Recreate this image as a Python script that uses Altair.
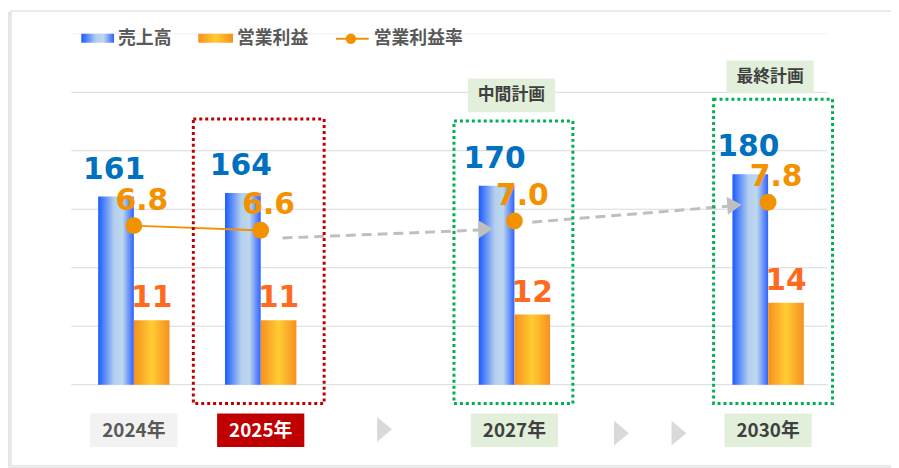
import altair as alt
import pandas as pd

# ---------------- data ----------------
categories = ["2024年", "2025年", "2027年", "2030年"]
slots = ["2024年", "2025年", " ", "2027年", "  ", "2030年"]
sales = [161, 164, 170, 180]            # 売上高
op_profit = [11, 11, 12, 14]            # 営業利益
op_margin = [6.8, 6.6, 7.0, 7.8]        # 営業利益率
phase = ["実績", "実績", "計画", "計画"]
grid_vals = [0, 50, 100, 150, 200, 250, 300]
legend_names = ["売上高", "営業利益", "営業利益率"]
plan_tags = ["中間計画", "最終計画"]

W, H = 768, 354
JP = "Noto Sans CJK JP"
NUM = "DejaVu Sans"

df = pd.DataFrame({"cat": categories, "sales": sales, "op": op_profit,
                   "margin": op_margin, "phase": phase})
one = pd.DataFrame({"k": [0]})

X = alt.X("cat:N", scale=alt.Scale(domain=slots, paddingInner=0, paddingOuter=0), axis=None)
Ys = alt.Scale(domain=[0, 300])
Yo = alt.Scale(domain=[0, 60])
Ym = alt.Scale(domain=[0, 15])

blue_grad = alt.LinearGradient(
    gradient="linear", x1=0, x2=1, y1=0, y2=0,
    stops=[alt.GradientStop(color="#1A5AFF", offset=0),
           alt.GradientStop(color="#B4CFEE", offset=0.45),
           alt.GradientStop(color="#BDD7EE", offset=0.68),
           alt.GradientStop(color="#2E62FF", offset=1)])
orange_grad = alt.LinearGradient(
    gradient="linear", x1=0, x2=1, y1=0, y2=0,
    stops=[alt.GradientStop(color="#F7901E", offset=0),
           alt.GradientStop(color="#FFCC33", offset=0.5),
           alt.GradientStop(color="#F7901E", offset=1)])


def rect(x, x2, y, y2, **kw):
    return alt.Chart(one).mark_rect(**kw).encode(
        x=alt.value(x), x2=alt.value(x2), y=alt.value(y), y2=alt.value(y2))


def label(txt, x, y, **kw):
    return alt.Chart(one).mark_text(**kw).encode(
        x=alt.value(x), y=alt.value(y), text=alt.value(txt))


def rule(x, y, x2, y2, **kw):
    return alt.Chart(one).mark_rule(**kw).encode(
        x=alt.value(x), y=alt.value(y), x2=alt.value(x2), y2=alt.value(y2))


def tri(x, y, size, color, angle=0, half_w=0.6):
    path = f"M-{half_w},-1L{half_w},0L-{half_w},1Z"
    return alt.Chart(one).mark_point(shape=path, filled=True, size=size,
                                     color=color, opacity=1, angle=angle,
                                     strokeWidth=0).encode(
        x=alt.value(x), y=alt.value(y))


# frame with shadow
shadow = rect(-63, 840, -20, 439, fill="white", stroke="#E6E6E6", strokeWidth=4)
frame = rect(-60, 840, -23, 436, fill="white", stroke="#D6D6D6", strokeWidth=1)

grid = alt.Chart(pd.DataFrame({"v": grid_vals})).mark_rule(strokeWidth=1).encode(
    y=alt.Y("v:Q", scale=Ys, axis=None),
    x=alt.value(1), x2=alt.value(764),
    color=alt.condition("datum.v == 300", alt.value("#F0F0F0"), alt.value("#D9D9D9")))

base = alt.Chart(df)

blue = base.mark_bar(width=36, xOffset=-18, color=blue_grad).encode(
    x=X, y=alt.Y("sales:Q", scale=Ys, axis=None))
orange = base.mark_bar(width=36, xOffset=18, color=orange_grad).encode(
    x=X, y=alt.Y("op:Q", scale=Yo, axis=None))

line = base.transform_filter("datum.phase == '実績'").mark_line(
    color="#F39200", strokeWidth=2).encode(x=X, y=alt.Y("margin:Q", scale=Ym, axis=None))
pts = base.mark_circle(size=290, color="#F39200", opacity=1).encode(
    x=X, y=alt.Y("margin:Q", scale=Ym, axis=None))

blue_lab = base.mark_text(font=NUM, fontWeight="bold", fontSize=30, color="#0070C0",
                          baseline="bottom", xOffset=-20, dy=-12).encode(
    x=X, y=alt.Y("sales:Q", scale=Ys, axis=None), text="sales:Q")
orange_lab = base.mark_text(font=NUM, fontWeight="bold", fontSize=30, color="#FF6A21",
                            baseline="bottom", xOffset=18, dy=-7).encode(
    x=X, y=alt.Y("op:Q", scale=Yo, axis=None), text="op:Q")
margin_lab = base.mark_text(font=NUM, fontWeight="bold", fontSize=30, color="#F39200",
                            baseline="middle", xOffset=8, dy=-25).encode(
    x=X, y=alt.Y("margin:Q", scale=Ym, axis=None),
    text=alt.Text("margin:Q", format=".1f"))

# dotted highlight boxes
box_style = dict(fillOpacity=0, strokeWidth=3, strokeDash=[3, 3])
box25 = rect(124, 256, 86, 373, stroke="#C00000", **box_style)
box27 = rect(387, 507, 88, 373, stroke="#00B050", **box_style)
box30 = rect(649, 769, 66, 373, stroke="#00B050", **box_style)

tag1_bg = rect(401, 489, 45, 79, fill="#E2EFDA")
tag1 = label(plan_tags[0], 445, 62, font=JP, fontWeight="bold", fontSize=17,
             color="#404040", align="center", baseline="middle")
tag2_bg = rect(662, 750, 27, 60, fill="#E2EFDA")
tag2 = label(plan_tags[1], 706, 44, font=JP, fontWeight="bold", fontSize=17,
             color="#404040", align="center", baseline="middle")

# dashed trend arrows
arr1 = rule(214, 206, 413, 198, color="#BFBFBF", strokeWidth=3, strokeDash=[10, 6])
arr1h = tri(419, 197, 330, "#BFBFBF", 358, 0.8)
arr2 = rule(466, 190, 664, 174, color="#BFBFBF", strokeWidth=3, strokeDash=[10, 6])
arr2h = tri(670, 173, 330, "#BFBFBF", 356, 0.8)

# category label boxes
cat_fill = alt.Color("cat:N", scale=alt.Scale(domain=categories,
                     range=["#F2F2F2", "#C00000", "#E2EFDA", "#E2EFDA"]), legend=None)
cat_txt = alt.Color("cat:N", scale=alt.Scale(domain=categories,
                    range=["#595959", "#FFFFFF", "#404040", "#404040"]), legend=None)
cat_box = base.mark_bar(width=88).encode(x=X, y=alt.value(383), y2=alt.value(417), color=cat_fill)
cat_lab = base.mark_text(font=JP, fontWeight="bold", fontSize=19, baseline="middle").encode(
    x=X, y=alt.value(401), text="cat:N", color=cat_txt)

# step triangles
t1 = tri(317, 399, 625, "#D9D9D9")
t2 = tri(556, 403, 625, "#D9D9D9")
t3 = tri(614, 403, 625, "#D9D9D9")

# legend
lg_style = dict(font=JP, fontWeight="bold", fontSize=18, color="#595959",
                align="left", baseline="middle")
lg = [
    rect(11, 44, 0, 9, fill=blue_grad),
    label(legend_names[0], 48, 5, **lg_style),
    rect(129, 164, 0, 9, fill=orange_grad),
    label(legend_names[1], 168, 5, **lg_style),
    rule(268, 5, 301, 5, color="#F39200", strokeWidth=2),
    alt.Chart(one).mark_circle(size=110, color="#F39200", opacity=1).encode(
        x=alt.value(283), y=alt.value(5)),
    label(legend_names[2], 306, 5, **lg_style),
]

chart = alt.layer(
    shadow, frame, grid, blue, orange, line, pts,
    arr1, arr1h, arr2, arr2h,
    box25, box27, box30, tag1_bg, tag1, tag2_bg, tag2,
    blue_lab, orange_lab, margin_lab,
    cat_box, cat_lab, t1, t2, t3, *lg
).resolve_scale(y="independent", color="independent").properties(
    width=W, height=H,
    autosize=alt.AutoSizeParams(type="none"),
    padding={"left": 63, "top": 24, "right": 60, "bottom": 82},
    background="white",
).configure_view(stroke=None)

chart.save("out.html", embed_options={"renderer": "svg", "actions": False})
